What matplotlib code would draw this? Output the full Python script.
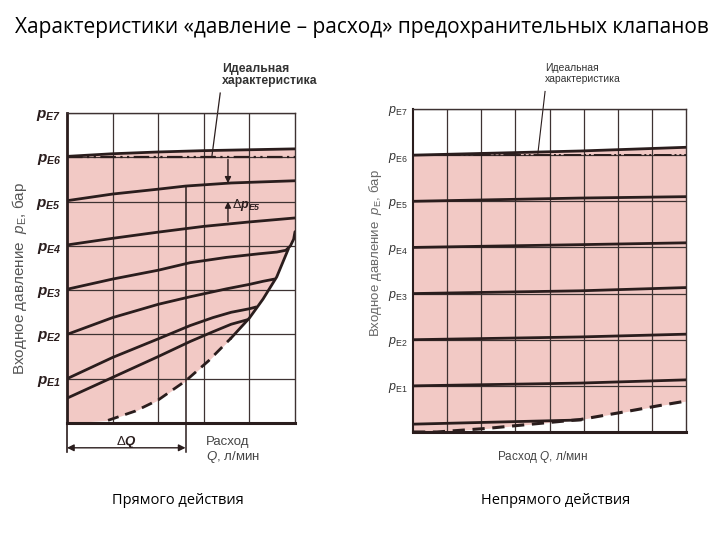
import matplotlib
matplotlib.use("Agg")
import matplotlib.pyplot as plt
import numpy as np

TITLE = "Характеристики «давление – расход» предохранительных клапанов"
CAPTIONS = ["Прямого действия", "Непрямого действия"]
LEVELS = ["E1", "E2", "E3", "E4", "E5", "E6", "E7"]
IDEAL = 6.0

# --- direct-acting valve: Q in grid cells (0..5), p in units of pE1 ---
dir_c0_q = [0, 1, 2, 2.7, 3.2, 3.6, 3.95]
dir_c0_p = [0.56, 1.03, 1.5, 1.84, 2.06, 2.23, 2.33]
dir_c1_q = [0, 1, 2, 2.7, 3.2, 3.6, 4.0, 4.15]
dir_c1_p = [1.0, 1.48, 1.9, 2.2, 2.38, 2.5, 2.58, 2.62]
dir_c2_q = [0, 1, 2, 2.7, 3.5, 4.0, 4.3, 4.55]
dir_c2_p = [2.0, 2.38, 2.68, 2.85, 3.03, 3.13, 3.2, 3.25]
dir_c3_q = [0, 1, 2, 2.7, 3.5, 4.2, 4.6, 4.8, 4.9, 4.97, 5.0]
dir_c3_p = [3.02, 3.25, 3.45, 3.62, 3.74, 3.82, 3.86, 3.9, 4.0, 4.15, 4.32]
dir_c4_q = [0, 1, 2, 3, 4, 5]
dir_c4_p = [4.02, 4.17, 4.31, 4.44, 4.54, 4.63]
dir_c5_q = [0, 1, 2, 2.6, 3.6, 5]
dir_c5_p = [5.02, 5.17, 5.28, 5.35, 5.42, 5.47]
dir_c6_q = [0, 1, 2, 3, 4, 5]
dir_c6_p = [6.02, 6.08, 6.12, 6.15, 6.17, 6.19]
dir_env_q = [0.0, 0.9, 1.5, 2.0, 2.6, 3.1, 3.6, 4.0, 4.3, 4.6, 4.85]
dir_env_p = [0.0, 0.06, 0.27, 0.52, 0.95, 1.4, 1.92, 2.37, 2.8, 3.3, 3.92]
DELTA_Q = 2.6
DELTA_PE5_Q = 3.53

# --- pilot-operated valve: Q in grid cells (0..8) ---
ind_q = [0, 4.9, 8]
ind_pe1 = [1.0, 1.06, 1.13]
ind_pe2 = [2.0, 2.06, 2.12]
ind_pe3 = [3.0, 3.06, 3.13]
ind_pe4 = [4.0, 4.06, 4.1]
ind_pe5 = [5.0, 5.07, 5.1]
ind_pe6 = [6.0, 6.09, 6.17]
ind_c0_q = [0, 4.9]
ind_c0_p = [0.17, 0.26]
ind_env_q = [0, 0.7, 2.2, 3.9, 4.9, 6.3, 7.2, 8]
ind_env_p = [0, 0.0, 0.08, 0.2, 0.27, 0.45, 0.57, 0.67]

PINK = "#f2c9c5"
INK = "#2a1d1d"
GRID = "#3d3232"

plt.rcParams["mathtext.fontset"] = "custom"
plt.rcParams["mathtext.rm"] = "Liberation Sans"
plt.rcParams["mathtext.it"] = "Liberation Sans:italic"
plt.rcParams["mathtext.bf"] = "Liberation Sans:italic:bold"
plt.rcParams["font.family"] = "Liberation Sans"


def frame(ax, nx, labels, fs, color):
    ax.set_xlim(0, nx); ax.set_ylim(0, 7)
    ax.set_xticks(range(1, nx)); ax.set_xticklabels([])
    ax.set_yticks(range(1, 8)); ax.set_yticklabels(labels, fontsize=fs, color=color)
    ax.tick_params(length=0, pad=4)
    ax.grid(color=GRID, lw=0.9)
    for s in ("top", "right"):
        ax.spines[s].set_linewidth(1.0); ax.spines[s].set_color(GRID)
    ax.spines["left"].set_linewidth(2.0); ax.spines["left"].set_color(INK)
    ax.spines["bottom"].set_linewidth(2.2); ax.spines["bottom"].set_color(INK)


def main():
    fig = plt.figure(figsize=(7.2, 5.4), dpi=100)
    fig.text(15 / 720, 1 - 27 / 540, TITLE, fontsize=15.0, family="Open Sans",
             va="center", ha="left")

    # ---------------- direct acting ----------------
    ax = fig.add_axes((67 / 720, 1 - 423 / 540, 228 / 720, 310 / 540))
    frame(ax, 5, [r"$\mathbf{p}_{\mathbf{%s}}$" % l for l in LEVELS], 11, INK)

    xs = np.linspace(0, 5, 400)
    bq = dir_env_q + [q for q in dir_c3_q if q > dir_env_q[-1]]
    bp = dir_env_p + [p for q, p in zip(dir_c3_q, dir_c3_p) if q > dir_env_q[-1]]
    ax.fill_between(xs, np.interp(xs, bq, bp), np.interp(xs, dir_c6_q, dir_c6_p),
                    color=PINK, lw=0, zorder=1)

    for q, p in [(dir_c0_q, dir_c0_p), (dir_c1_q, dir_c1_p), (dir_c2_q, dir_c2_p),
                 (dir_c3_q, dir_c3_p), (dir_c4_q, dir_c4_p), (dir_c5_q, dir_c5_p),
                 (dir_c6_q, dir_c6_p)]:
        ax.plot(q, p, color=INK, lw=2.0, solid_capstyle="round", zorder=3)
    k = dir_env_q.index(3.6)
    ax.plot(dir_env_q[1:k + 1], dir_env_p[1:k + 1], color=INK, lw=2.0,
            ls=(0, (4, 2.5)), zorder=3)
    ax.plot(dir_env_q[k:], dir_env_p[k:], color=INK, lw=2.0, zorder=3)
    ax.plot([0, 5], [IDEAL, IDEAL], color=INK, lw=1.6,
            ls=(0, (7, 2, 1, 2, 1, 2)), zorder=3)

    # delta p_E5
    p5 = np.interp(DELTA_PE5_Q, dir_c5_q, dir_c5_p)
    arr = dict(arrowstyle="-|>", color=INK, lw=1.0, mutation_scale=9,
               shrinkA=0, shrinkB=0)
    ax.annotate("", xy=(DELTA_PE5_Q, p5), xytext=(DELTA_PE5_Q, 5.95), arrowprops=arr)
    ax.annotate("", xy=(DELTA_PE5_Q, 5.0), xytext=(DELTA_PE5_Q, 4.55), arrowprops=arr)
    ax.text(DELTA_PE5_Q + 0.08, 4.92, r"$\Delta\mathbf{p}_{\mathbf{E5}}$",
            fontsize=9, color=INK, va="center", ha="left")

    # delta Q
    pq = np.interp(DELTA_Q, dir_c5_q, dir_c5_p)
    ax.plot([DELTA_Q, DELTA_Q], [pq, -0.66], color=INK, lw=1.1, clip_on=False, zorder=3)
    ax.plot([0, 0], [0, -0.66], color=INK, lw=1.2, clip_on=False)
    ax.annotate("", xy=(0, -0.56), xytext=(DELTA_Q, -0.56), annotation_clip=False,
                arrowprops=dict(arrowstyle="<|-|>", color=INK, lw=1.0,
                                mutation_scale=10, shrinkA=0, shrinkB=0))
    ax.text(DELTA_Q / 2, -0.44, r"$\Delta\mathbf{Q}$", fontsize=9.5, color=INK,
            ha="center", va="center")
    ax.text(3.05, -0.3, "Расход\n" + r"$\mathit{Q}$, л/мин", fontsize=9.5,
            color="#444444", ha="left", va="top", linespacing=1.05)

    ax.text(3.4, 8.12, "Идеальная\nхарактеристика", fontsize=8.8, fontweight="bold",
            color="#333333", ha="left", va="top", linespacing=1.0)
    ax.plot([3.36, 3.18], [7.45, 6.04], color=INK, lw=0.9, clip_on=False)

    fig.text(20 / 720, 1 - 278 / 540, r"Входное давление  $\mathit{p}_{\mathrm{E}}$, бар",
             rotation=90, ha="center", va="center", fontsize=11, color="#555555")

    # ---------------- pilot operated ----------------
    ax2 = fig.add_axes((413 / 720, 1 - 432 / 540, 273 / 720, 323 / 540))
    frame(ax2, 8, [r"$\mathit{p}_{\mathrm{%s}}$" % l for l in LEVELS], 9, "#333333")
    ax2.spines["left"].set_linewidth(1.5)

    xs = np.linspace(0, 8, 400)
    ax2.fill_between(xs, np.interp(xs, ind_env_q, ind_env_p),
                     np.interp(xs, ind_q, ind_pe6), color=PINK, lw=0, zorder=1)
    for p in [ind_pe1, ind_pe2, ind_pe3, ind_pe4, ind_pe5, ind_pe6]:
        ax2.plot(ind_q, p, color=INK, lw=2.0, zorder=3)
    ax2.plot(ind_c0_q, ind_c0_p, color=INK, lw=2.0, zorder=3)
    ax2.plot(ind_env_q, ind_env_p, color=INK, lw=2.2, ls=(0, (4, 2.5)), zorder=3)
    ax2.plot([0, 8], [IDEAL, IDEAL], color=INK, lw=1.4,
             ls=(0, (9, 1.5, 1, 1.5, 1, 1.5)), zorder=3)

    ax2.text(3.87, 8.0, "Идеальная\nхарактеристика", fontsize=7.5, color="#333333",
             ha="left", va="top", linespacing=1.1)
    ax2.plot([3.87, 3.66], [7.38, 6.04], color=INK, lw=0.8, clip_on=False)
    ax2.text(3.8, -0.54, r"Расход $\mathit{Q}$, л/мин", fontsize=8.5, color="#444444",
             ha="center", va="center")
    fig.text(376 / 720, 1 - 253 / 540, r"Входное давление  $\mathit{p}_{\mathrm{E}}$, бар",
             rotation=90, ha="center", va="center", fontsize=9.5, color="#666666")

    for x, c in zip([178, 556], CAPTIONS):
        fig.text(x / 720, 1 - 501 / 540, c, fontsize=10.5, family="Open Sans",
                 ha="center", va="center")

    fig.savefig("out.png", dpi=100)
    plt.close(fig)


if __name__ == "__main__":
    main()
